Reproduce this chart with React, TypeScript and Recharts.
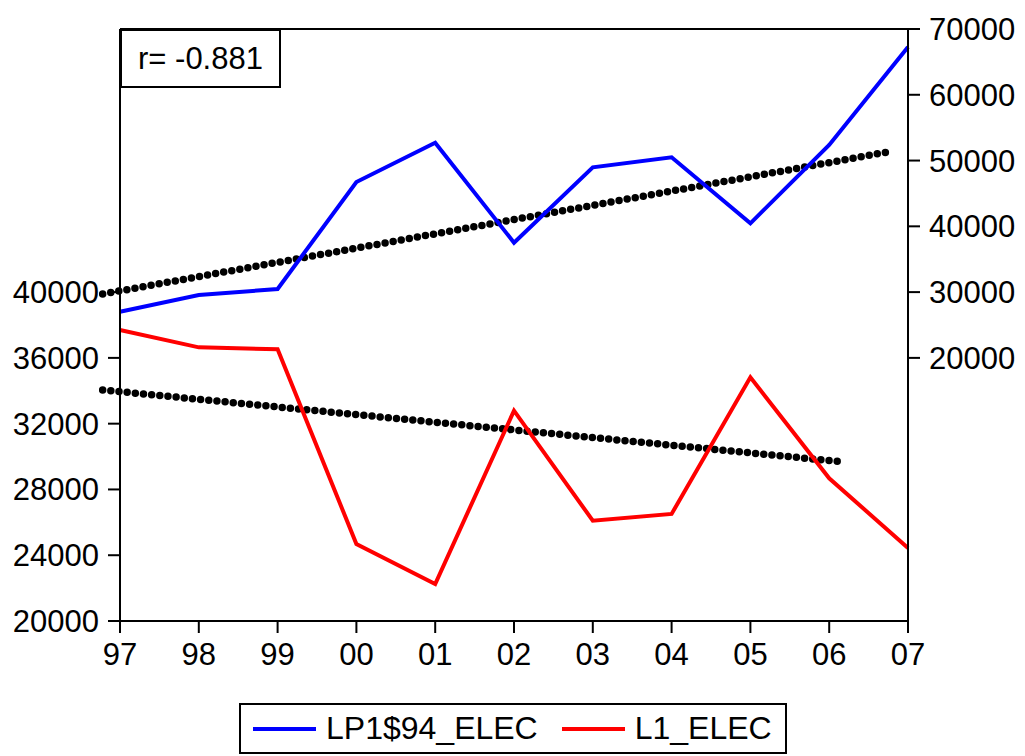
import React from "react";
import {
  ComposedChart,
  Line,
  XAxis,
  YAxis,
  ReferenceLine,
  Legend,
} from "recharts";

const FONT = "'Liberation Sans', Arial, sans-serif";
const BLUE = "#0000ff";
const RED = "#ff0000";

// years 1997..2007 shown as two-digit labels
const years = [97, 98, 99, 100, 101, 102, 103, 104, 105, 106, 107];
const lp1Elec = [27020, 29560, 30470, 46740, 52710, 37510, 48970, 50500, 40460, 52370, 67260];
const l1Elec = [37700, 36640, 36520, 24680, 22250, 32790, 26100, 26510, 34820, 28680, 24440];

const leftTicks = [20000, 24000, 28000, 32000, 36000, 40000];
const rightTicks = [20000, 30000, 40000, 50000, 60000, 70000];

// fitted trend lines: [x, y] endpoints
const lp1Trend = [
  [96.78, 29710],
  [106.81, 51450],
];
const l1Trend = [
  [96.78, 34050],
  [106.19, 29670],
];

const seriesOrder = ["LP1$94_ELEC", "L1_ELEC"];

const data = years.map((y, i) => ({
  year: y,
  lp1: lp1Elec[i],
  l1: l1Elec[i],
}));

const tickStyle = { fill: "#000", fontSize: 31, fontFamily: FONT };
const axisLine = { stroke: "#000", strokeWidth: 2 };

function LegendBox({ payload }: { payload?: { value: string; color: string }[] }) {
  const items = [...(payload || [])].sort(
    (a, b) => seriesOrder.indexOf(a.value) - seriesOrder.indexOf(b.value)
  );
  return (
    <div
      style={{
        boxSizing: "border-box",
        width: 548,
        height: 51,
        border: "2px solid #000",
        display: "flex",
        alignItems: "center",
        paddingLeft: 12,
        fontFamily: FONT,
        fontSize: 32,
        color: "#000",
        background: "#fff",
      }}
    >
      {items.map((p) => (
        <div key={p.value} style={{ display: "flex", alignItems: "center", marginRight: 24 }}>
          <span
            style={{ display: "inline-block", width: 63, height: 4, background: p.color, marginRight: 10 }}
          />
          <span>{p.value}</span>
        </div>
      ))}
    </div>
  );
}

export default function App() {
  return (
    <div style={{ position: "absolute", left: 0, top: 0, width: 1025, height: 756, background: "#fff" }}>
      <ComposedChart
        width={1025}
        height={756}
        data={data}
        margin={{ top: 29, right: 0, left: 8, bottom: 75 }}
      >
        <XAxis
          dataKey="year"
          type="number"
          domain={[97, 107]}
          ticks={years}
          tickFormatter={(v) => String(v % 100).padStart(2, "0")}
          tick={tickStyle}
          tickSize={12}
          tickMargin={10}
          axisLine={axisLine}
          tickLine={axisLine}
          height={60}
        />
        <YAxis
          yAxisId="left"
          domain={[20000, 56000]}
          ticks={leftTicks}
          tick={tickStyle}
          tickSize={12}
          tickMargin={9}
          axisLine={axisLine}
          tickLine={axisLine}
          width={112}
          interval={0}
        />
        <YAxis
          yAxisId="right"
          orientation="right"
          domain={[-20000, 70000]}
          ticks={rightTicks}
          tick={tickStyle}
          tickSize={12}
          tickMargin={9}
          axisLine={axisLine}
          tickLine={axisLine}
          width={117}
          interval={0}
        />
        <ReferenceLine yAxisId="left" y={56000} stroke="#000" strokeWidth={2} />
        <ReferenceLine
          yAxisId="right"
          ifOverflow="visible"
          segment={lp1Trend.map(([x, y]) => ({ x, y }))}
          stroke="#000"
          strokeWidth={7.5}
          strokeDasharray="0 8.2"
          strokeLinecap="round"
        />
        <ReferenceLine
          yAxisId="left"
          ifOverflow="visible"
          segment={l1Trend.map(([x, y]) => ({ x, y }))}
          stroke="#000"
          strokeWidth={7.5}
          strokeDasharray="0 8.2"
          strokeLinecap="round"
        />
        <Line
          yAxisId="right"
          dataKey="lp1"
          name="LP1$94_ELEC"
          stroke={BLUE}
          strokeWidth={4}
          dot={false}
          isAnimationActive={false}
        />
        <Line
          yAxisId="left"
          dataKey="l1"
          name="L1_ELEC"
          stroke={RED}
          strokeWidth={4}
          dot={false}
          isAnimationActive={false}
        />
        <Legend
          layout="horizontal"
          verticalAlign="middle"
          content={<LegendBox />}
          wrapperStyle={{ left: 239, top: 703, width: 548, height: 51 }}
        />
      </ComposedChart>
      <div
        style={{
          position: "absolute",
          left: 120,
          top: 29,
          width: 161,
          height: 59,
          boxSizing: "border-box",
          border: "2px solid #000",
          background: "#fff",
          fontFamily: FONT,
          fontSize: 31,
          display: "flex",
          alignItems: "center",
          justifyContent: "center",
          color: "#000",
        }}
      >
        r= -0.881
      </div>
    </div>
  );
}
